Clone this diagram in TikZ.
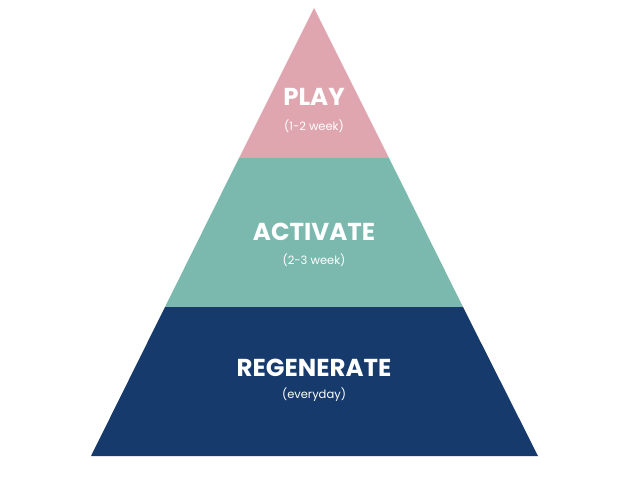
\documentclass[tikz,border=0pt]{standalone}
\usepackage{fontspec}
\setmainfont{Poppins}
\usetikzlibrary{positioning,calc}
\definecolor{playpink}{RGB}{224,166,176}
\definecolor{activeteal}{RGB}{123,184,174}
\definecolor{regennavy}{RGB}{22,58,107}

\tikzset{
    tier/.style={font=\bfseries\fontsize{24.5}{26}\selectfont, text=white, inner sep=0pt},
    span/.style={font=\fontsize{11.5}{13}\selectfont, text=white, inner sep=0pt}
}

\begin{document}
\begin{tikzpicture}[x=1pt, y=-1pt]
    % Canvas
    \useasboundingbox (0,0) rectangle (632,490);

    % Corners of the pyramid
    \coordinate (apex) at (314,8);
    \coordinate (topL) at (239,158);
    \coordinate (topR) at (389,158);
    \coordinate (midL) at (165,307);
    \coordinate (midR) at (463,307);
    \coordinate (baseL) at (91,456);
    \coordinate (baseR) at (538,456);

    % Layers
    \fill[playpink] (apex) -- (topR) -- (topL) -- cycle;
    \fill[activeteal] (topL) -- (topR) -- (midR) -- (midL) -- cycle;
    \fill[regennavy] (midL) -- (midR) -- (baseR) -- (baseL) -- cycle;

    % Labels
    \node[tier] (play) at (314,97) {PLAY};
    \node[span] (playtime) at (314,126) {(1-2 week)};
    \node[tier] (activate) at (314,232) {ACTIVATE};
    \node[span] (activatetime) at (314,260) {(2-3 week)};
    \node[tier] (regen) at (314,368) {REGENERATE};
    \node[span] (regentime) at (314,395) {(everyday)};
\end{tikzpicture}
\end{document}
